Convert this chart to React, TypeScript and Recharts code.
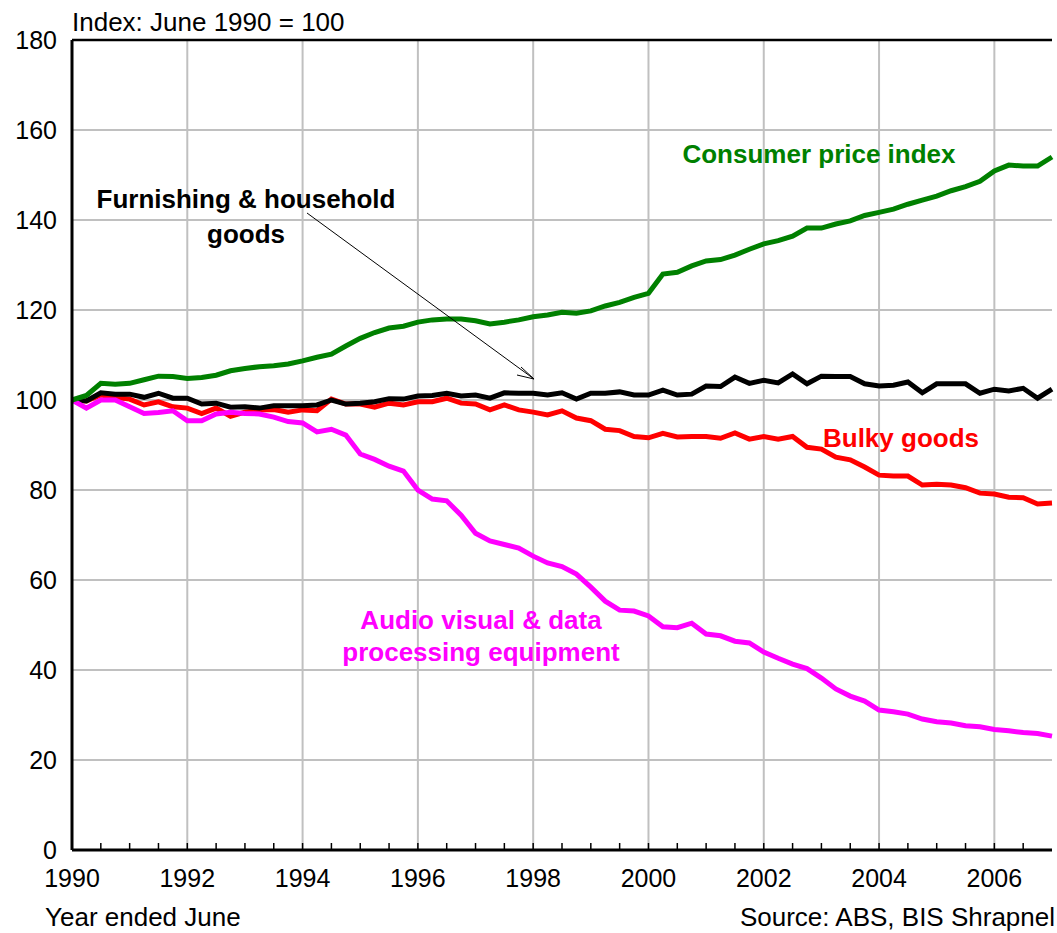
import React from 'react';
import {
  LineChart,
  Line,
  XAxis,
  YAxis,
  CartesianGrid,
  ReferenceLine,
} from 'recharts';

// Quarterly index values, June 1990 to June 2007 (June 1990 = 100)
const startYear = 1990;

const cpi = [
  100, 101, 103.7, 103.5, 103.7, 104.5, 105.3, 105.2, 104.8, 105, 105.5, 106.5,
  107, 107.4, 107.6, 108, 108.7, 109.5, 110.2, 112, 113.7, 115, 116, 116.4,
  117.3, 117.8, 118, 118, 117.6, 116.9, 117.3, 117.8, 118.5, 118.9, 119.5, 119.3,
  119.8, 120.9, 121.7, 122.8, 123.7, 128, 128.4, 129.8, 130.9, 131.2, 132.2, 133.5,
  134.7, 135.4, 136.4, 138.2, 138.2, 139.1, 139.8, 141, 141.7, 142.4, 143.5, 144.4,
  145.3, 146.5, 147.4, 148.6, 150.9, 152.2, 152, 152, 154,
];

const furnishing = [
  100, 99.8, 101.6, 101.3, 101.3, 100.6, 101.5, 100.4, 100.4, 99.1, 99.3, 98.4,
  98.5, 98.2, 98.7, 98.7, 98.7, 98.9, 100, 99.1, 99.3, 99.6, 100.3, 100.2,
  100.9, 101, 101.5, 100.9, 101.1, 100.4, 101.6, 101.5, 101.5, 101.1, 101.6, 100.2,
  101.5, 101.5, 101.8, 101.1, 101.1, 102.2, 101.1, 101.3, 103.1, 103, 105.1, 103.7,
  104.4, 103.8, 105.8, 103.6, 105.3, 105.2, 105.2, 103.6, 103.1, 103.3, 104, 101.6,
  103.6, 103.6, 103.6, 101.5, 102.4, 102, 102.6, 100.4, 102.4,
];

const bulky = [
  100, 99.8, 101.1, 100.6, 100.2, 98.9, 99.6, 98.5, 98.2, 97, 98.2, 96.4,
  97.3, 97.8, 97.9, 97.3, 97.8, 97.6, 100.2, 99.1, 99.1, 98.4, 99.3, 98.9,
  99.6, 99.6, 100.4, 99.3, 99.1, 97.8, 98.9, 97.8, 97.3, 96.7, 97.6, 96,
  95.4, 93.5, 93.2, 91.9, 91.6, 92.6, 91.8, 91.9, 91.9, 91.5, 92.7, 91.3,
  91.9, 91.3, 91.9, 89.5, 89.1, 87.3, 86.7, 85.1, 83.3, 83.1, 83.1, 81.1,
  81.3, 81.1, 80.5, 79.3, 79.1, 78.4, 78.3, 76.9, 77.1,
];

const audioVisual = [
  100, 98.2, 100, 100, 98.5, 97, 97.2, 97.6, 95.4, 95.4, 96.9, 97.3,
  97, 96.9, 96.2, 95.2, 94.9, 92.9, 93.5, 92.2, 88, 86.8, 85.3, 84.2,
  80, 78, 77.6, 74.4, 70.4, 68.7, 67.9, 67.1, 65.3, 63.8, 63, 61.3,
  58.4, 55.3, 53.3, 53.1, 52, 49.6, 49.4, 50.4, 48, 47.6, 46.4, 46,
  44, 42.6, 41.3, 40.3, 38.2, 35.8, 34.2, 33.1, 31.1, 30.7, 30.2, 29.1,
  28.5, 28.2, 27.6, 27.4, 26.8, 26.5, 26.1, 25.9, 25.3,
];

const yTicks = [0, 20, 40, 60, 80, 100, 120, 140, 160, 180];
const xTicks = Array.from({ length: 35 }, (_, i) => 1990 + i * 0.5);
const gridYears = [1992, 1994, 1996, 1998, 2000, 2002, 2004, 2006];

const data = cpi.map((v, i) => ({
  t: startYear + i * 0.25,
  cpi: v,
  furnishing: furnishing[i],
  bulky: bulky[i],
  audio: audioVisual[i],
}));

const FONT = '"Liberation Sans", Arial, sans-serif';

const XTick = (props: any) => {
  const { x, y, payload } = props;
  const v = payload.value;
  const labelled = Number.isInteger(v) && v % 2 === 0 && v < 2007;
  return (
    <g>
      {v > 1990 && v < 2007 && (
        <line x1={x} x2={x} y1={y} y2={y - 7} stroke="#000" strokeWidth={1.5} />
      )}
      {labelled && (
        <text x={x} y={y + 37} textAnchor="middle" fontSize={25} fontFamily={FONT} fill="#000">
          {v}
        </text>
      )}
    </g>
  );
};

const labelStyle = { fontFamily: FONT, fontSize: 26, fontWeight: 700 } as const;

export default function App() {
  return (
    <div style={{ position: 'absolute', left: 0, top: 0, width: 1057, height: 933, background: '#fff' }}>
      <LineChart
        width={1057}
        height={933}
        data={data}
        margin={{ top: 40, right: 5, left: 10, bottom: 23 }}
      >
        <CartesianGrid vertical={false} stroke="#c0c0c0" strokeWidth={2} />
        {gridYears.map((yr) => (
          <ReferenceLine key={yr} x={yr} stroke="#c0c0c0" strokeWidth={2} />
        ))}
        <ReferenceLine y={180} stroke="#000" strokeWidth={2.5} />
        <XAxis
          dataKey="t"
          type="number"
          domain={[1990, 2007]}
          ticks={xTicks}
          interval={0}
          height={60}
          tickSize={0}
          tickMargin={0}
          tickLine={false}
          axisLine={{ stroke: '#000', strokeWidth: 3 }}
          tick={<XTick />}
        />
        <YAxis
          type="number"
          domain={[0, 180]}
          ticks={yTicks}
          interval={0}
          width={62}
          tickSize={0}
          tickMargin={15}
          tickLine={false}
          axisLine={{ stroke: '#000', strokeWidth: 3 }}
          tick={{ fill: '#000', fontSize: 25, fontFamily: FONT }}
        />
        <Line dataKey="bulky" stroke="#ff0000" strokeWidth={5} dot={false} isAnimationActive={false} />
        <Line dataKey="furnishing" stroke="#000000" strokeWidth={5} dot={false} isAnimationActive={false} />
        <Line dataKey="audio" stroke="#ff00ff" strokeWidth={5} dot={false} isAnimationActive={false} />
        <Line dataKey="cpi" stroke="#008000" strokeWidth={5} dot={false} isAnimationActive={false} />
      </LineChart>

      <svg
        width={1057}
        height={933}
        style={{ position: 'absolute', left: 0, top: 0, pointerEvents: 'none' }}
      >
        <text x={72} y={31} fontSize={26} fontFamily={FONT} fill="#000">Index: June 1990 = 100</text>
        <text x={45} y={926} fontSize={26} fontFamily={FONT} fill="#000">Year ended June</text>
        <text x={1055} y={926} textAnchor="end" fontSize={26} fontFamily={FONT} fill="#000">
          Source: ABS, BIS Shrapnel
        </text>

        <text x={819} y={163} textAnchor="middle" fill="#008000" {...labelStyle}>Consumer price index</text>
        <text x={246} y={208} textAnchor="middle" fill="#000" {...labelStyle}>Furnishing &amp; household</text>
        <text x={246} y={243} textAnchor="middle" fill="#000" {...labelStyle}>goods</text>
        <text x={901} y={447} textAnchor="middle" fill="#ff0000" {...labelStyle}>Bulky goods</text>
        <text x={481} y={629} textAnchor="middle" fill="#ff00ff" {...labelStyle}>Audio visual &amp; data</text>
        <text x={481} y={661} textAnchor="middle" fill="#ff00ff" {...labelStyle}>processing equipment</text>

        <line x1={307} y1={213} x2={534} y2={379} stroke="#000" strokeWidth={1} />
        <polyline points="521,367 534,379 517,375" fill="none" stroke="#000" strokeWidth={1} />
      </svg>
    </div>
  );
}
